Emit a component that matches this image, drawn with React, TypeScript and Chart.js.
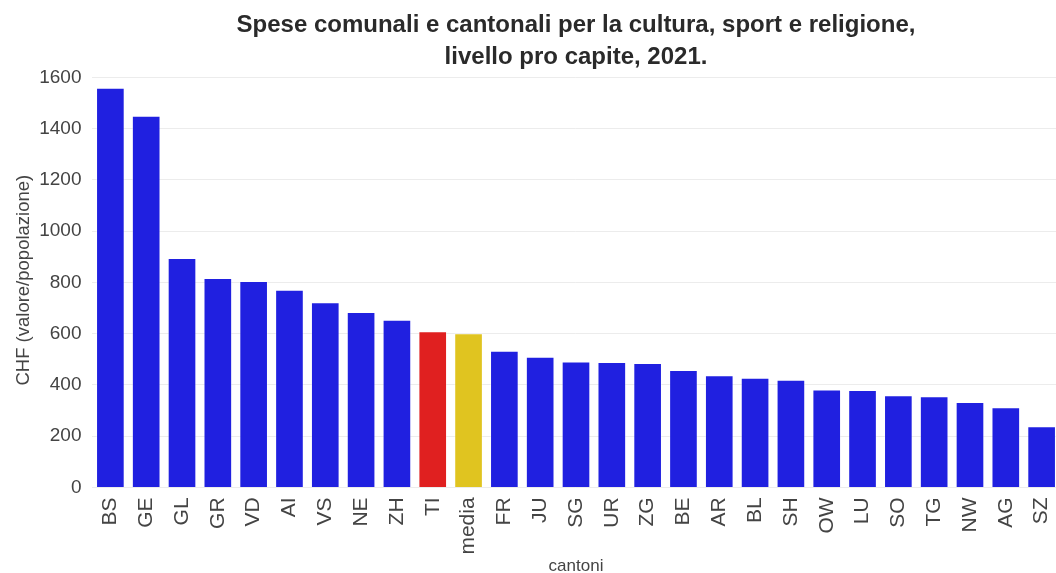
import React, { useEffect, useRef } from "react";
import { Chart, registerables } from "chart.js";

Chart.register(...registerables);

const categories = ["BS","GE","GL","GR","VD","AI","VS","NE","ZH","TI","media","FR","JU","SG","UR","ZG","BE","AR","BL","SH","OW","LU","SO","TG","NW","AG","SZ"];
const values = [1559,1450,895,817,805,771,722,684,654,609,601,533,510,491,489,485,458,438,428,420,382,380,360,356,333,313,239];
const tickValues = [0,200,400,600,800,1000,1200,1400,1600];
const titleLines = ["Spese comunali e cantonali per la cultura, sport e religione,", "livello pro capite, 2021."];
const yTitle = "CHF (valore/popolazione)";
const xTitle = "cantoni";

const BLUE = "rgb(32,32,224)";
const RED = "rgb(224,32,32)";
const YELLOW = "rgb(224,196,32)";
const FONT = "Liberation Sans, Arial, sans-serif";
const W = 1069;
const H = 573;

export default function App() {
  const ref = useRef<HTMLCanvasElement>(null);
  useEffect(() => {
    document.documentElement.style.overflow = "hidden";
    document.body.style.overflow = "hidden";
    const colors = categories.map((c) => (c === "TI" ? RED : c === "media" ? YELLOW : BLUE));
    const chart = new Chart(ref.current!, {
      type: "bar",
      data: {
        labels: categories,
        datasets: [
          {
            data: values,
            backgroundColor: colors,
            borderColor: "rgba(255,255,255,0.35)",
            borderWidth: 1,
            barPercentage: 0.8,
            categoryPercentage: 1,
          },
        ],
      },
      options: {
        animation: false,
        responsive: false,
        maintainAspectRatio: false,
        layout: { padding: { left: 13, right: 0, top: 0, bottom: -4 } },
        plugins: {
          legend: { display: false },
          tooltip: { enabled: false },
          title: {
            display: true,
            fullSize: false,
            text: titleLines,
            color: "#2a2a2a",
            font: { family: FONT, size: 24, weight: "bold", lineHeight: 1.333 },
            padding: { top: 9, bottom: 0 },
          },
        },
        scales: {
          x: {
            grid: { display: false },
            border: { display: false },
            ticks: {
              color: "#444",
              font: { family: FONT, size: 21 },
              maxRotation: 90,
              minRotation: 90,
              autoSkip: false,
              padding: 2,
            },
            title: {
              display: true,
              text: xTitle,
              color: "#444",
              font: { family: FONT, size: 17 },
              padding: { top: 0, bottom: 0 },
            },
          },
          y: {
            min: 0,
            max: 1617,
            afterBuildTicks: (axis: any) => {
              axis.ticks = tickValues.map((v) => ({ value: v }));
            },
            grid: { color: "#ececec", lineWidth: 1, drawTicks: false },
            border: { display: false },
            ticks: {
              color: "#444",
              font: { family: FONT, size: 19 },
              padding: 11,
              callback: (v: any) => String(v),
            },
            title: {
              display: true,
              text: yTitle,
              color: "#444",
              font: { family: FONT, size: 18.5 },
              padding: { top: 0, bottom: -7 },
            },
          },
        },
      },
    });
    return () => chart.destroy();
  }, []);
  return (
    <div style={{ position: "fixed", left: 0, top: 0, width: W, height: H, background: "#fff" }}>
      <canvas ref={ref} width={W} height={H} style={{ width: W, height: H }} />
    </div>
  );
}
